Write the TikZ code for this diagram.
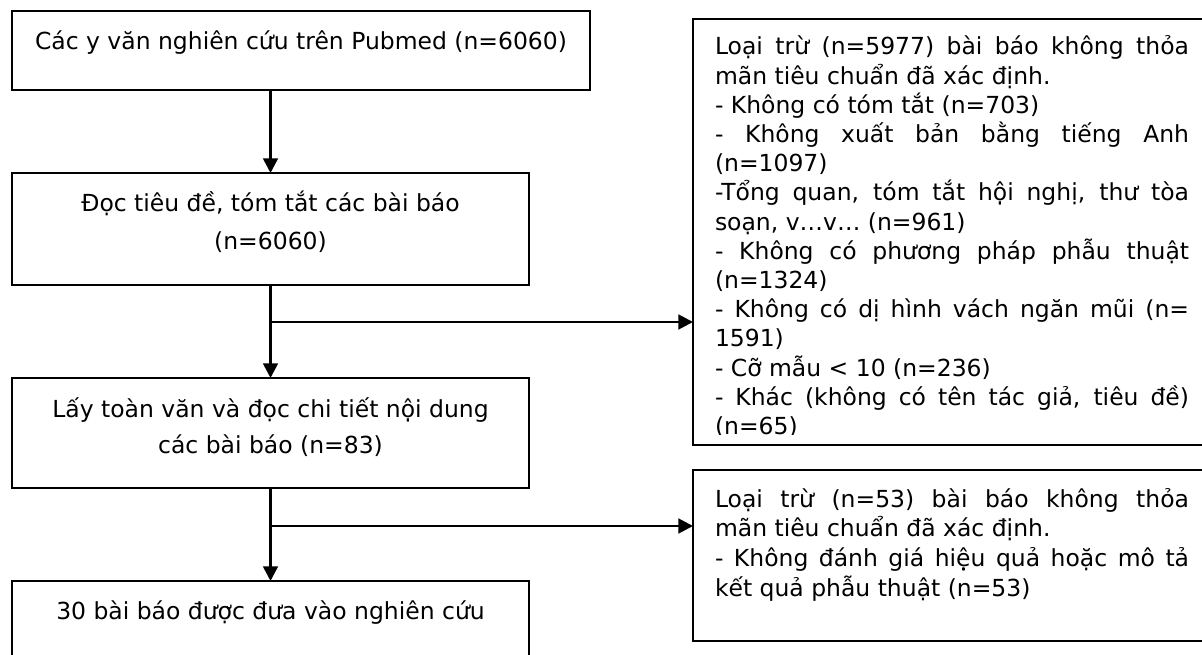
\documentclass[tikz,border=0pt]{standalone}
\usepackage{fontspec}
\setmainfont{DejaVu Sans}
\usetikzlibrary{arrows.meta}
\newcommand\jline[1]{\hbox to \hsize{#1}}
\newcommand\lline[1]{\hbox to \hsize{#1\hfil}}
\newcommand\cenline[1]{\hbox to \hsize{\hfil#1\hfil}}
\tikzset{
  boxnode/.style={draw=black, line width=2.2pt, anchor=north west, inner sep=0pt, outer sep=0pt},
  txt/.style={inner sep=0pt, outer sep=0pt, font=\fontsize{17.6pt}{21.9pt}\selectfont},
  conn/.style={line width=2.1pt, -{Triangle[length=11pt, width=11pt]}}
}
\begin{document}
\begin{tikzpicture}[x=0.75pt,y=-0.75pt]
\useasboundingbox (0,0) rectangle (1202,655);
\clip (0,0) rectangle (1202,655);
\fill[white] (0,0) rectangle (1202,655);
% left boxes
\node[boxnode, minimum width={578*0.75pt}, minimum height={79*0.75pt}] (b1) at (12,11) {};
\node[boxnode, minimum width={517*0.75pt}, minimum height={112*0.75pt}] (b2) at (12,173) {};
\node[boxnode, minimum width={517*0.75pt}, minimum height={110*0.75pt}] (b3) at (12,378) {};
\node[boxnode, minimum width={517*0.75pt}, minimum height={120*0.75pt}] (b4) at (12,581) {};
% right boxes
\node[boxnode, minimum width={519*0.75pt}, minimum height={426*0.75pt}] (r1) at (693,19) {};
\node[boxnode, minimum width={519*0.75pt}, minimum height={171*0.75pt}] (r2) at (693,470) {};
% texts
\node[txt, anchor=base] (t1) at (301,50) {\vtop{\hsize=430pt \baselineskip=28pt
  \cenline{Các y văn nghiên cứu trên Pubmed (n=6060)}}};
\node[txt, anchor=base] (t2) at (270.5,212) {\vtop{\hsize=380pt \baselineskip=28.2pt
  \cenline{Đọc tiêu đề, tóm tắt các bài báo}
  \cenline{(n=6060)}}};
\node[txt, anchor=base] (t3) at (270.5,417) {\vtop{\hsize=380pt \baselineskip=27.6pt
  \cenline{Lấy toàn văn và đọc chi tiết nội dung}
  \cenline{các bài báo (n=83)}}};
\node[txt, anchor=base] (t4) at (270.5,619) {\vtop{\hsize=380pt \baselineskip=27.6pt
  \cenline{30 bài báo được đưa vào nghiên cứu}}};
\begin{scope}
\clip (693,19) rectangle (1212,434.5);
\node[txt, anchor=base west] (rt1) at (715,55) {\vtop{\hsize=355.5pt \baselineskip=21.9pt
  \jline{Loại trừ (n=5977) bài báo không thỏa}
  \lline{mãn tiêu chuẩn đã xác định.}
  \lline{- Không có tóm tắt (n=703)}
  \jline{- Không xuất bản bằng tiếng Anh}
  \lline{(n=1097)}
  \jline{-Tổng quan, tóm tắt hội nghị, thư tòa}
  \lline{soạn, v…v… (n=961)}
  \jline{- Không có phương pháp phẫu thuật}
  \lline{(n=1324)}
  \jline{- Không có dị hình vách ngăn mũi (n=}
  \lline{1591)}
  \lline{- Cỡ mẫu < 10 (n=236)}
  \jline{- Khác (không có tên tác giả, tiêu đề)}
  \lline{(n=65)}}};
\end{scope}
\node[txt, anchor=base west] (rt2) at (715,507) {\vtop{\hsize=355.5pt \baselineskip=22.4pt
  \jline{Loại trừ (n=53) bài báo không thỏa}
  \lline{mãn tiêu chuẩn đã xác định.}
  \jline{- Không đánh giá hiệu quả hoặc mô tả}
  \lline{kết quả phẫu thuật (n=53)}}};
% connectors
\coordinate (j1) at (271,322);
\coordinate (j2) at (271,526);
\draw[conn] (b1.south -| b2.north) -- (b2.north);
\draw[conn] (b2.south) -- (b3.north);
\draw[conn] (b3.south) -- (b4.north);
\draw[conn] (j1) -- (j1 -| r1.west);
\draw[conn] (j2) -- (j2 -| r2.west);
\end{tikzpicture}
\end{document}
